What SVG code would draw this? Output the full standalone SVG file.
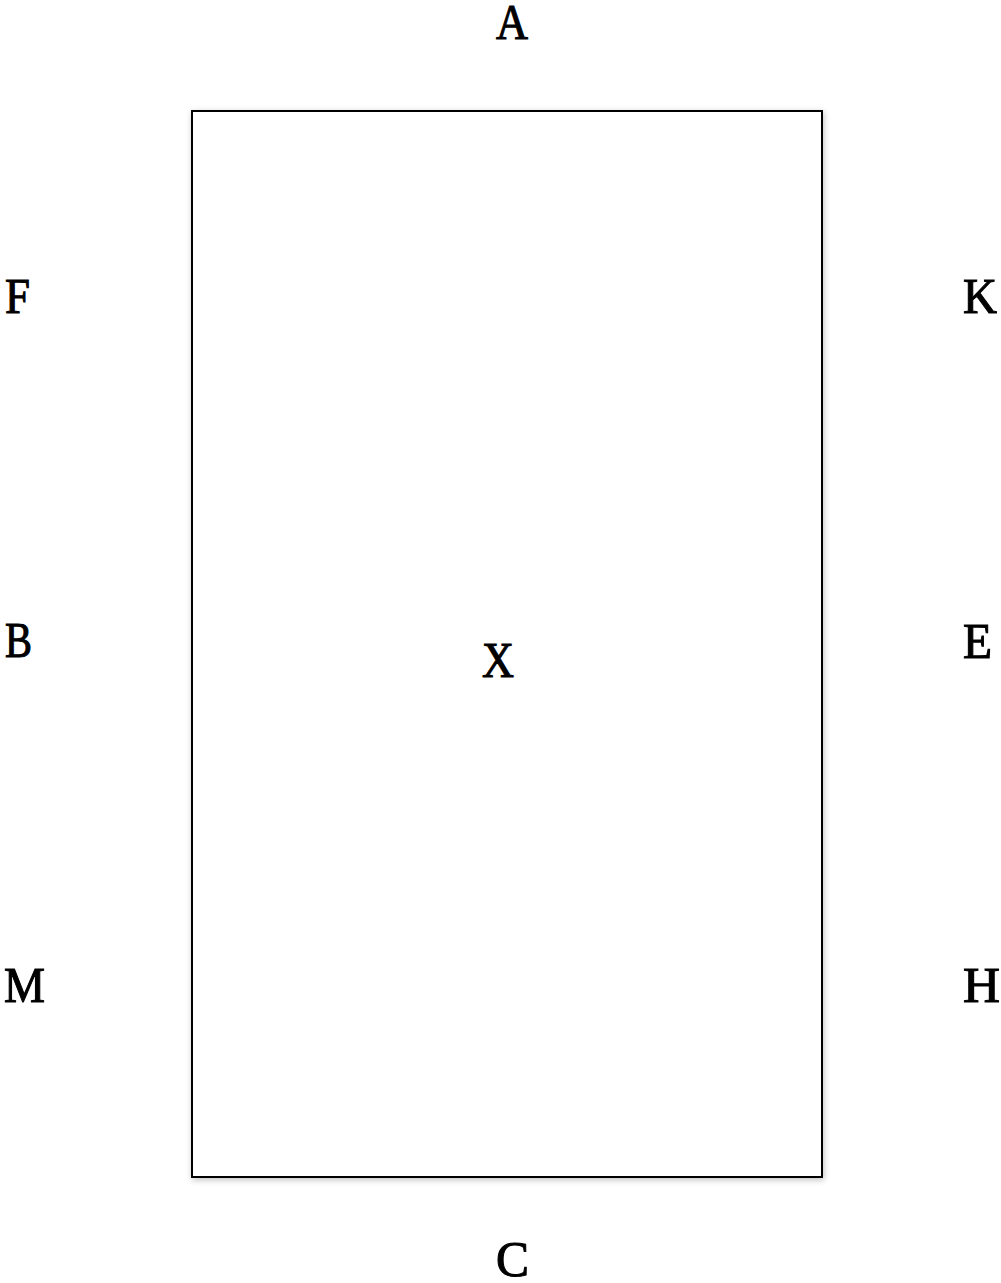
<svg xmlns="http://www.w3.org/2000/svg" width="1001" height="1283" viewBox="0 0 1001 1283">
<style>
.lbl{font-family:"Liberation Serif","Times New Roman",serif;font-size:50px;fill:#000;stroke:#000;stroke-width:1.1px;}
</style>
<defs>
<filter id="sh" x="-5%" y="-5%" width="110%" height="110%">
<feGaussianBlur in="SourceAlpha" stdDeviation="3"/>
<feOffset dx="1" dy="2"/>
<feComponentTransfer><feFuncA type="linear" slope="0.25"/></feComponentTransfer>
<feMerge><feMergeNode/><feMergeNode in="SourceGraphic"/></feMerge>
</filter>
</defs>
<rect width="1001" height="1283" fill="#fff"/>
<g id="box">
<rect x="192" y="111" width="630" height="1066" fill="#fff" stroke="#000" stroke-width="2" filter="url(#sh)"/>
<text class="lbl" x="482" y="677" textLength="32" lengthAdjust="spacingAndGlyphs">X</text>
</g>
<g id="labels">
<text id="A" class="lbl" x="496" y="39" textLength="32" lengthAdjust="spacingAndGlyphs">A</text>
<text id="F" class="lbl" x="5" y="313" textLength="25" lengthAdjust="spacingAndGlyphs">F</text>
<text id="K" class="lbl" x="963" y="313" textLength="34" lengthAdjust="spacingAndGlyphs">K</text>
<text id="B" class="lbl" x="5" y="657" textLength="27" lengthAdjust="spacingAndGlyphs">B</text>
<text id="E" class="lbl" x="963" y="658" textLength="29" lengthAdjust="spacingAndGlyphs">E</text>
<text id="M" class="lbl" x="4" y="1002" textLength="41" lengthAdjust="spacingAndGlyphs">M</text>
<text id="H" class="lbl" x="963" y="1002" textLength="37" lengthAdjust="spacingAndGlyphs">H</text>
<text id="C" class="lbl" x="496" y="1276" textLength="33" lengthAdjust="spacingAndGlyphs">C</text>
</g>
<g id="connectors"/>
</svg>
